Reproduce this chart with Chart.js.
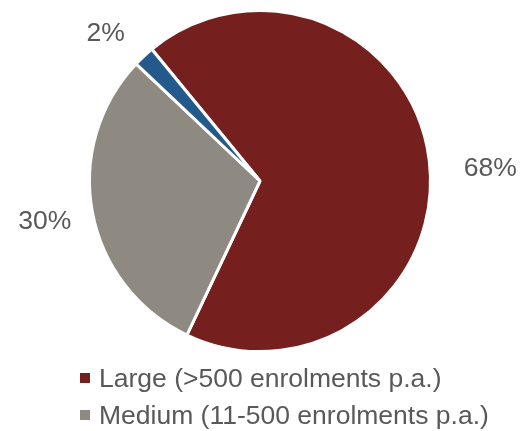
<!DOCTYPE html>
<html>
<head>
<meta charset="utf-8">
<script src="https://cdn.jsdelivr.net/npm/chart.js@4.4.1/dist/chart.umd.min.js"></script>
<style>
  html, body { margin: 0; padding: 0; background: #fff; }
  #wrap { position: relative; width: 520px; height: 431px; overflow: hidden; }
  #legend { position: absolute; left: 80px; top: 360px; font-family: "Liberation Sans", Arial, sans-serif; font-size: 26.5px; color: #595959; }
  #legend div { height: 37px; line-height: 37px; white-space: nowrap; }
  #legend span.box { display: inline-block; width: 10px; height: 10px; margin-right: 9px; vertical-align: 4px; }
</style>
</head>
<body>
<div id="wrap">
  <canvas id="mycanvas" width="520" height="431"></canvas>
  <div id="legend"></div>
</div>
<script>
var categories = ['Large (>500 enrolments p.a.)', 'Medium (11-500 enrolments p.a.)', 'Small'];
var shares = [68, 30, 2];
var colours = ['#75201F', '#8E8A81', '#235A8B'];
var legendShown = [true, true, false];

// label placement: radial distance from centre plus a small nudge
var labelDist = [222, 220, 222];
var labelNudge = [[10, 15], [1, 0], [-3, 15]];

var pieLabels = {
  id: 'pieLabels',
  afterDatasetsDraw: function(chart) {
    var ctx = chart.ctx;
    var meta = chart.getDatasetMeta(0);
    ctx.save();
    ctx.font = '26.5px "Liberation Sans", Arial, sans-serif';
    ctx.fillStyle = '#595959';
    ctx.textAlign = 'center';
    ctx.textBaseline = 'middle';
    meta.data.forEach(function(arc, i) {
      var mid = (arc.startAngle + arc.endAngle) / 2;
      var x = arc.x + Math.cos(mid) * labelDist[i] + labelNudge[i][0];
      var y = arc.y + Math.sin(mid) * labelDist[i] + labelNudge[i][1];
      ctx.fillText(shares[i] + '%', x, y);
    });
    ctx.restore();
  }
};

var ctx = document.getElementById('mycanvas');
new Chart(ctx, {
  type: 'pie',
  data: {
    labels: categories,
    datasets: [{
      data: shares,
      backgroundColor: colours,
      borderColor: '#ffffff',
      borderWidth: 3
    }]
  },
  options: {
    responsive: false,
    animation: false,
    rotation: -39.4,
    layout: { padding: { left: 88, right: 88, top: 9, bottom: 78 } },
    plugins: {
      legend: { display: false },
      tooltip: { enabled: false }
    }
  },
  plugins: [pieLabels]
});

var legend = document.getElementById('legend');
categories.forEach(function(name, i) {
  if (!legendShown[i]) return;
  var row = document.createElement('div');
  var box = document.createElement('span');
  box.className = 'box';
  box.style.background = colours[i];
  row.appendChild(box);
  row.appendChild(document.createTextNode(name));
  legend.appendChild(row);
});
</script>
</body>
</html>
